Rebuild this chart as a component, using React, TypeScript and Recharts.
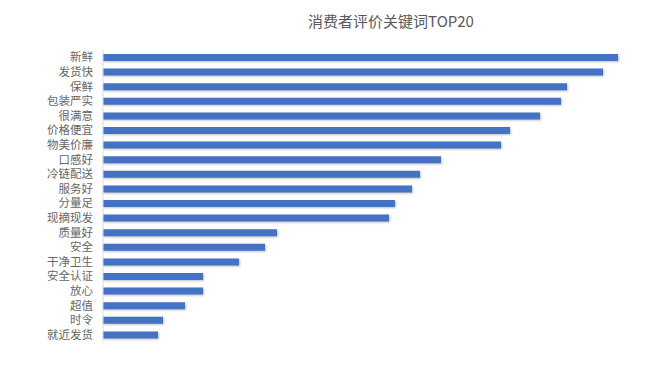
import React from "react";
import { BarChart, Bar, XAxis, YAxis } from "recharts";

const keywords = [
  "新鲜", "发货快", "保鲜", "包装严实", "很满意", "价格便宜", "物美价廉", "口感好", "冷链配送", "服务好",
  "分量足", "现摘现发", "质量好", "安全", "干净卫生", "安全认证", "放心", "超值", "时令", "就近发货",
];
const counts = [515, 500, 464, 458, 437, 407, 398, 338, 317, 309, 292, 286, 174, 162, 136, 100, 100, 82, 60, 55];
const title = "消费者评价关键词TOP20";

const data = keywords.map((k, i) => ({ name: k, value: counts[i] }));

export default function App() {
  return (
    <div style={{ position: "absolute", left: 0, top: 0, width: 660, height: 365, background: "#ffffff" }}>
      <div
        style={{
          position: "absolute",
          left: 0,
          top: 11,
          width: 782,
          textAlign: "center",
          fontFamily: "'Noto Sans CJK SC', sans-serif",
          fontSize: 15,
          color: "#595959",
          lineHeight: "20px",
        }}
      >
        {title}
      </div>
      <BarChart
        width={660}
        height={365}
        data={data}
        layout="vertical"
        margin={{ top: 50, right: 7, bottom: 23, left: 0 }}
      >
        <XAxis type="number" domain={[0, 550]} hide />
        <YAxis
          type="category"
          dataKey="name"
          width={103}
          tickLine={false}
          tickMargin={4}
          axisLine={{ stroke: "#d9d9d9" }}
          tick={{ fill: "#666666", fontSize: 11.5, fontFamily: "'Noto Sans CJK SC', sans-serif" }}
          interval={0}
        />
        <Bar
          dataKey="value"
          fill="#4472C4"
          barSize={7}
          isAnimationActive={false}
          style={{ filter: "drop-shadow(1px 1px 1px rgba(0,0,0,0.25))" }}
        />
      </BarChart>
    </div>
  );
}
